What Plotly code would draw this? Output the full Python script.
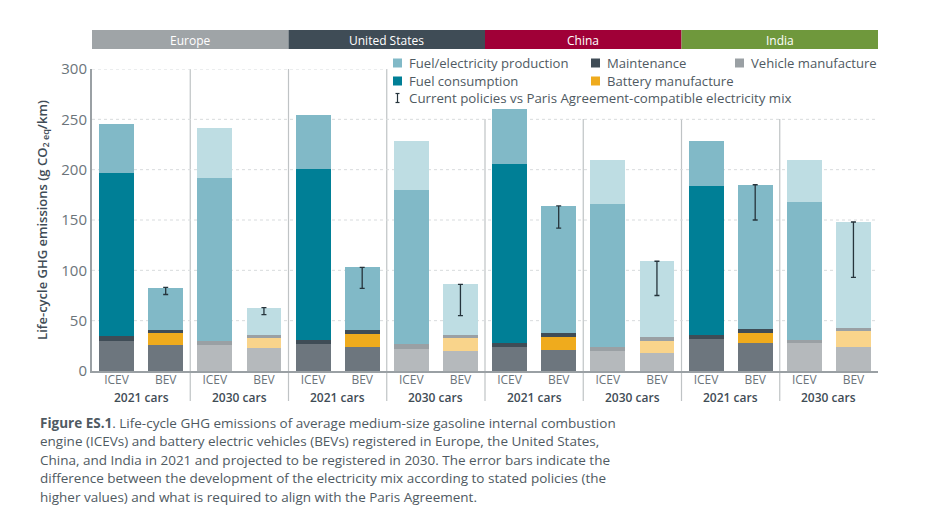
import plotly.graph_objects as go

FONT = "Open Sans"
TXT = "#4f5a62"

regions = ["Europe", "United States", "China", "India"]
region_colors = ["#9fa4a7", "#3f4c56", "#a00037", "#6f983c"]
cohorts = ["2021 cars", "2030 cars"]
powertrains = ["ICEV", "BEV"]

vehicle     = [30, 26, 26, 23, 27, 24, 22, 20, 24, 21, 20, 18, 32, 28, 28, 24]
battery     = [0, 12, 0, 10, 0, 13, 0, 13, 0, 13, 0, 12, 0, 10, 0, 16]
maintenance = [5, 3, 4, 3, 4, 4, 5, 3, 4, 4, 4, 4, 4, 4, 3, 3]
fuel_cons   = [162, 0, 162, 0, 170, 0, 153, 0, 178, 0, 142, 0, 148, 0, 137, 0]
fuel_elec   = [48, 41, 49, 27, 53, 62, 48, 50, 54, 126, 44, 75, 44, 143, 42, 105]
err_high    = [83, 63, 103, 86, 164, 109, 185, 148]
err_low     = [76, 56, 82, 55, 142, 75, 150, 93]
y_ticks     = [0, 50, 100, 150, 200, 250, 300]

caption = [
    "<b>Figure ES.1</b>. Life-cycle GHG emissions of average medium-size gasoline internal combustion",
    "engine (ICEVs) and battery electric vehicles (BEVs) registered in Europe, the United States,",
    "China, and India in 2021 and projected to be registered in 2030. The error bars indicate the",
    "difference between the development of the electricity mix according to stated policies (the",
    "higher values) and what is required to align with the Paris Agreement.",
]

n = len(vehicle)
xs = list(range(n))
is2030 = [(i // 2) % 2 == 1 for i in xs]
series = [
    ("Vehicle manufacture", vehicle, "#6d767e", "#b5b9bc"),
    ("Battery manufacture", battery, "#efab1d", "#f9d48b"),
    ("Maintenance", maintenance, "#3f4c56", "#9aa0a4"),
    ("Fuel consumption", fuel_cons, "#007f96", "#81b9c7"),
    ("Fuel/electricity production", fuel_elec, "#81b9c7", "#bedde3"),
]

fig = go.Figure()
for name, vals, c21, c30 in series:
    fig.add_bar(x=xs, y=vals, name=name, showlegend=False,
                marker=dict(color=[c30 if f else c21 for f in is2030], line_width=0))

bev_x = xs[1::2]
fig.add_trace(go.Scatter(
    x=bev_x, y=err_high, mode="markers", marker=dict(size=1, opacity=0), showlegend=False,
    error_y=dict(type="data", symmetric=False, array=[0] * len(bev_x),
                 arrayminus=[h - l for h, l in zip(err_high, err_low)],
                 color="#26343c", thickness=1.3, width=2.5)))

W, H = 940, 525
PAGE = 8  # default page margin around the plot
L, R, T, B = 92, 878, 69, 371
def px(x): return (x - L) / (R - L)
def py(y): return (B - y) / (B - T)

shapes, ann = [], []

for v in y_ticks[1:]:
    shapes.append(dict(type="line", layer="below", xref="x", yref="y", x0=-0.5,
                       x1=15.5 if v < 300 else 5.5, y0=v, y1=v,
                       line=dict(color="#d8dbdd", width=1, dash="dot")))
for d in range(1, 8):
    xd = 2 * d - 0.5
    shapes.append(dict(type="line", layer="below", xref="x", yref="paper", x0=xd, x1=xd,
                       y0=py(401), y1=1 if d <= 3 else py(119),
                       line=dict(color="#bfc3c5", width=1.2)))
for i, (r, c) in enumerate(zip(regions, region_colors)):
    x0 = 4 * i - 0.5
    shapes.append(dict(type="rect", xref="x", yref="paper", x0=x0, x1=x0 + 4,
                       y0=py(49), y1=py(30), fillcolor=c, line_width=0))
    ann.append(dict(xref="x", yref="paper", x=x0 + 2, y=py(40), text=r, showarrow=False,
                    font=dict(family=FONT, size=12, color="white"), yanchor="middle"))
for i in range(8):
    ann.append(dict(xref="x", yref="paper", x=2 * i + 0.5, y=py(397.5), text=cohorts[i % 2],
                    showarrow=False, yanchor="middle",
                    font=dict(family=FONT, size=12, color="#3f4c56", weight=600)))
legend_items = [
    (393, 63, "#81b9c7", "Fuel/electricity production"),
    (393, 81, "#007f96", "Fuel consumption"),
    (591, 63, "#3f4c56", "Maintenance"),
    (591, 81, "#efab1d", "Battery manufacture"),
    (735, 63, "#9aa0a4", "Vehicle manufacture"),
]
for lx, ly, c, t in legend_items:
    shapes.append(dict(type="rect", xref="paper", yref="paper", x0=px(lx), x1=px(lx + 9),
                       y0=py(ly + 4.5), y1=py(ly - 4.5), fillcolor=c, line_width=0))
    ann.append(dict(xref="paper", yref="paper", x=px(lx + 13.5), y=py(ly), text=t, showarrow=False,
                    xanchor="left", yanchor="middle", font=dict(family=FONT, size=13.1, color=TXT)))
for x0, x1, y0, y1 in [(397.5, 397.5, 93.5, 102.5), (395.5, 399.5, 93.5, 93.5), (395.5, 399.5, 102.5, 102.5)]:
    shapes.append(dict(type="line", xref="paper", yref="paper", x0=px(x0), x1=px(x1),
                       y0=py(y0), y1=py(y1), line=dict(color="#26343c", width=1.2)))
ann.append(dict(xref="paper", yref="paper", x=px(406.5), y=py(98),
                text="Current policies vs Paris Agreement-compatible electricity mix", showarrow=False,
                xanchor="left", yanchor="middle", font=dict(family=FONT, size=13.3, color=TXT)))
for ly, t in zip([422.5, 441, 459.5, 478, 496.5], caption):
    ann.append(dict(xref="paper", yref="paper", x=px(37.5), y=py(ly), text=t, showarrow=False,
                    xanchor="left", yanchor="middle", font=dict(family=FONT, size=13.5, color=TXT)))

fig.update_layout(
    width=W - 2 * PAGE, height=H - 2 * PAGE, barmode="stack", bargap=0.29,
    margin=dict(l=L - PAGE, r=W - PAGE - R, t=T - PAGE, b=H - PAGE - B, pad=0),
    paper_bgcolor="white", plot_bgcolor="white",
    font=dict(family=FONT, color=TXT),
    shapes=shapes, annotations=ann, showlegend=False,
    xaxis=dict(range=[-0.5, 15.5], tickmode="array", tickvals=xs,
               ticktext=[powertrains[i % 2] for i in xs], ticks="", showgrid=False,
               showline=True, linecolor="#9aa0a4", linewidth=1.5, zeroline=False,
               ticklabelstandoff=-3,
               tickfont=dict(family=FONT, size=12, color="#6b747a")),
    yaxis=dict(range=[0, 300], tickmode="array", tickvals=y_ticks, ticks="", showgrid=False,
               showline=True, linecolor="#9aa0a4", linewidth=2, zeroline=False,
               tickfont=dict(family=FONT, size=15, color="#6b747a"),
               title=dict(text="Life-cycle GHG emissions (g CO<sub>2 eq</sub>/km)", standoff=11,
                          font=dict(family=FONT, size=13, color="#3f4c56", weight=600))),
)
fig.write_html("out.html")
